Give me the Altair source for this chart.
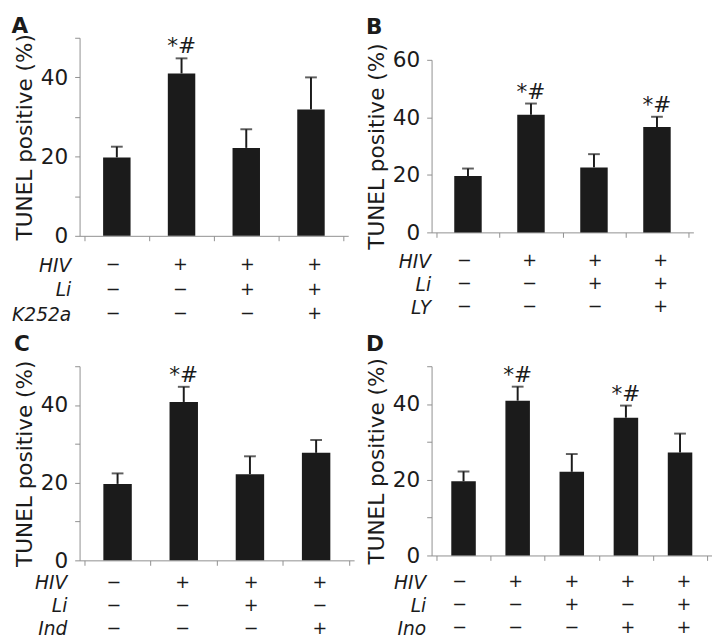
import altair as alt
import pandas as pd

FONT = "DejaVu Sans"
INK = "#1b1b1b"
AXIS = "#8f8f8f"
YTITLE = "TUNEL positive (%)"

# panel A
a_mean = [19.8, 41.0, 22.2, 31.9]
a_err = [2.7, 3.8, 4.7, 8.1]
a_sig = ["", "*#", "", ""]
a_rows = ["HIV", "Li", "K252a"]
a_hiv = ["−", "+", "+", "+"]
a_li = ["−", "−", "+", "+"]
a_k252a = ["−", "−", "−", "+"]

# panel B
b_mean = [19.6, 40.9, 22.6, 36.6]
b_err = [2.6, 3.9, 4.6, 3.6]
b_sig = ["", "*#", "", "*#"]
b_rows = ["HIV", "Li", "LY"]
b_hiv = ["−", "+", "+", "+"]
b_li = ["−", "−", "+", "+"]
b_ly = ["−", "−", "−", "+"]

# panel C
c_mean = [19.7, 40.8, 22.2, 27.7]
c_err = [2.7, 3.9, 4.6, 3.3]
c_sig = ["", "*#", "", ""]
c_rows = ["HIV", "Li", "Ind"]
c_hiv = ["−", "+", "+", "+"]
c_li = ["−", "−", "+", "−"]
c_ind = ["−", "−", "−", "+"]

# panel D
d_mean = [19.6, 40.9, 22.1, 36.4, 27.2]
d_err = [2.6, 3.7, 4.7, 3.2, 5.0]
d_sig = ["", "*#", "", "*#", ""]
d_rows = ["HIV", "Li", "Ino"]
d_hiv = ["−", "+", "+", "+", "+"]
d_li = ["−", "−", "+", "−", "+"]
d_ino = ["−", "−", "−", "+", "+"]


def panel(letter, mean, err, sig, rows, table, width, height, ymax, yvalues,
          gap, label_pad, title_offset, bar_size, tab_height, lead=None):
    n = len(mean)
    df = pd.DataFrame({
        "pos": [i + 0.5 for i in range(n)],
        "mean": mean,
        "top": [m + e for m, e in zip(mean, err)],
        "sig": sig,
    })
    x = alt.X("pos:Q", scale=alt.Scale(domain=[0, n], nice=False),
              axis=alt.Axis(values=list(range(n + 1)), labels=False, title=None,
                            grid=False, tickSize=5, domainColor=AXIS, tickColor=AXIS))
    yscale = alt.Scale(domain=[0, ymax], nice=False)
    yaxis = alt.Axis(values=yvalues, grid=False, title=YTITLE, tickSize=5,
                     labelExpr="datum.value % 20 == 0 ? datum.label : ''",
                     domainColor=AXIS, tickColor=AXIS, labelPadding=7, titlePadding=4)
    base = alt.Chart(df).encode(x=x)
    bars = base.mark_bar(size=bar_size, color=INK).encode(
        y=alt.Y("mean:Q", scale=yscale, axis=yaxis))
    rule = base.mark_rule(color=INK, strokeWidth=2).encode(
        y=alt.Y("mean:Q", scale=yscale, axis=yaxis), y2="top:Q")
    cap = base.mark_tick(orient="horizontal", size=12, thickness=2, color=INK).encode(
        y=alt.Y("top:Q", scale=yscale, axis=yaxis))
    stars = base.mark_text(baseline="alphabetic", dy=-5, fontSize=22, font=FONT, color=INK).encode(
        y=alt.Y("top:Q", scale=yscale, axis=yaxis), text="sig:N")
    chart = alt.layer(rule, cap, bars, stars).properties(width=width, height=height)

    cells = []
    for r, syms in zip(rows, table):
        for i, s in enumerate(syms):
            cells.append({"pos": i + 0.5, "row": r, "sym": s})
    tab = alt.Chart(pd.DataFrame(cells)).mark_text(fontSize=18, font=FONT, color=INK).encode(
        x=alt.X("pos:Q", scale=alt.Scale(domain=[0, n], nice=False), axis=None),
        y=alt.Y("row:N", sort=rows,
                axis=alt.Axis(title=None, domain=False, ticks=False, labelFontStyle="italic",
                              labelFontSize=19, labelPadding=label_pad)),
        text="sym:N",
    ).properties(width=width, height=tab_height)

    body = alt.vconcat(chart, tab, spacing=gap)
    if lead is not None:
        spacer = alt.Chart(pd.DataFrame({"v": [0]})).mark_point(opacity=0).encode(
            x=alt.value(0), y=alt.value(0)).properties(width=width, height=1)
        body = alt.vconcat(spacer, body, spacing=lead)
    return body.properties(
        title=alt.Title(letter, anchor="start", fontSize=22, fontWeight="bold",
                        font=FONT, color=INK, offset=title_offset))


pa = panel("A", a_mean, a_err, a_sig, a_rows, [a_hiv, a_li, a_k252a], 274, 202, 50,
           [0, 10, 20, 30, 40, 50], 6.5, 9, -4, 28, 75)
pb = panel("B", b_mean, b_err, b_sig, b_rows, [b_hiv, b_li, b_ly], 267, 176, 60,
           [0, 20, 40, 60], 0, 1, -4, 28, 70, lead=1.5)
pc = panel("C", c_mean, c_err, c_sig, c_rows, [c_hiv, c_li, c_ind], 280, 198, 50,
           [0, 10, 20, 30, 40, 50], 0.5, 13, 4, 29, 70)
pd_ = panel("D", d_mean, d_err, d_sig, d_rows, [d_hiv, d_li, d_ino], 286, 193, 50,
            [0, 10, 20, 30, 40, 50], 5, 6, 2, 25, 70)

chart = alt.vconcat(
    alt.hconcat(pa, pb, spacing=18),
    alt.hconcat(pc, pd_, spacing=12),
    spacing=6,
).properties(
    padding={"left": 3, "top": 0, "right": 0, "bottom": 0}
).configure_view(
    stroke=None
).configure_axis(
    labelFont=FONT, titleFont=FONT, labelFontSize=22, titleFontSize=22,
    titleFontWeight="normal", labelColor=INK, titleColor=INK
)

chart.save("out.html", embed_options={"renderer": "svg", "actions": False})
